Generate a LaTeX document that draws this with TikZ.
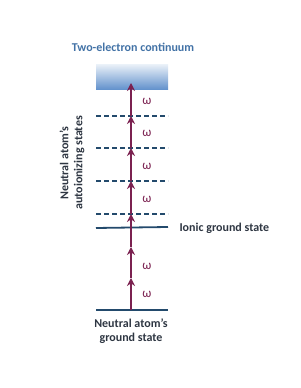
\documentclass[tikz,border=0pt]{standalone}
\usepackage{fontspec}
\setmainfont{Carlito}
\usetikzlibrary{arrows.meta}
\definecolor{lvl}{HTML}{234A6C}
\definecolor{arr}{HTML}{7B2150}
\definecolor{ttl}{HTML}{4272A6}
\definecolor{txt}{HTML}{2E3642}
\definecolor{ctop}{HTML}{E6EEF7}
\definecolor{cbot}{HTML}{5F8FCB}
\begin{document}
\begin{tikzpicture}[x=1pt,y=1pt,
  level/.style={draw=lvl,line width=1.8pt},
  dlevel/.style={level,dash pattern=on 5pt off 3pt},
  photon/.style={draw=arr,line width=1.8pt,-{Stealth[length=8pt,width=8pt]}},
  om/.style={text=arr,font=\fontsize{13}{14}\selectfont},
  lbl/.style={text=txt,font=\bfseries\fontsize{12}{14}\selectfont}]
\useasboundingbox (0,0) rectangle (300,388);
\node[text=ttl,font=\bfseries\fontsize{12}{14}\selectfont] (title) at (133,341) {Two-electron continuum};
\shade[top color=ctop,bottom color=cbot] (96,298) rectangle (168,323);
\coordinate (cont) at (131,305);
% levels
\coordinate (g) at (131,78);
\coordinate (v1) at (131,110);
\coordinate (v2) at (131,141);
\coordinate (d1) at (131,174);
\coordinate (d2) at (131,207);
\coordinate (d3) at (131,240);
\coordinate (d4) at (131,272);
\draw[level] (96,78) -- (168,78);
\draw[level] (96,160) -- (168,161);
\foreach \y in {174,207,240,272} \draw[dlevel] (96,\y) -- (168,\y);
% arrows
\draw[photon] (g) -- (v1);
\draw[photon] (v1) -- (v2);
\draw[photon] (v2) -- (d1);
\draw[photon] (d1) -- (d2);
\draw[photon] (d2) -- (d3);
\draw[photon] (d3) -- (d4);
\draw[photon] (d4) -- (cont);
% omegas
\foreach \y/\n in {94/a,122/b,189/c,222/d,255/e,287/f} \node[om] (om\n) at (147,\y) {ω};
% labels
\node[lbl,anchor=west] (ionic) at (176,160) {Ionic ground state};
\node[lbl,align=center] (ground) at (131,57) {Neutral atom’s\\ground state};
\node[lbl,align=center,rotate=90] (auto) at (72,225) {Neutral atom’s\\autoionizing states};
\end{tikzpicture}
\end{document}
